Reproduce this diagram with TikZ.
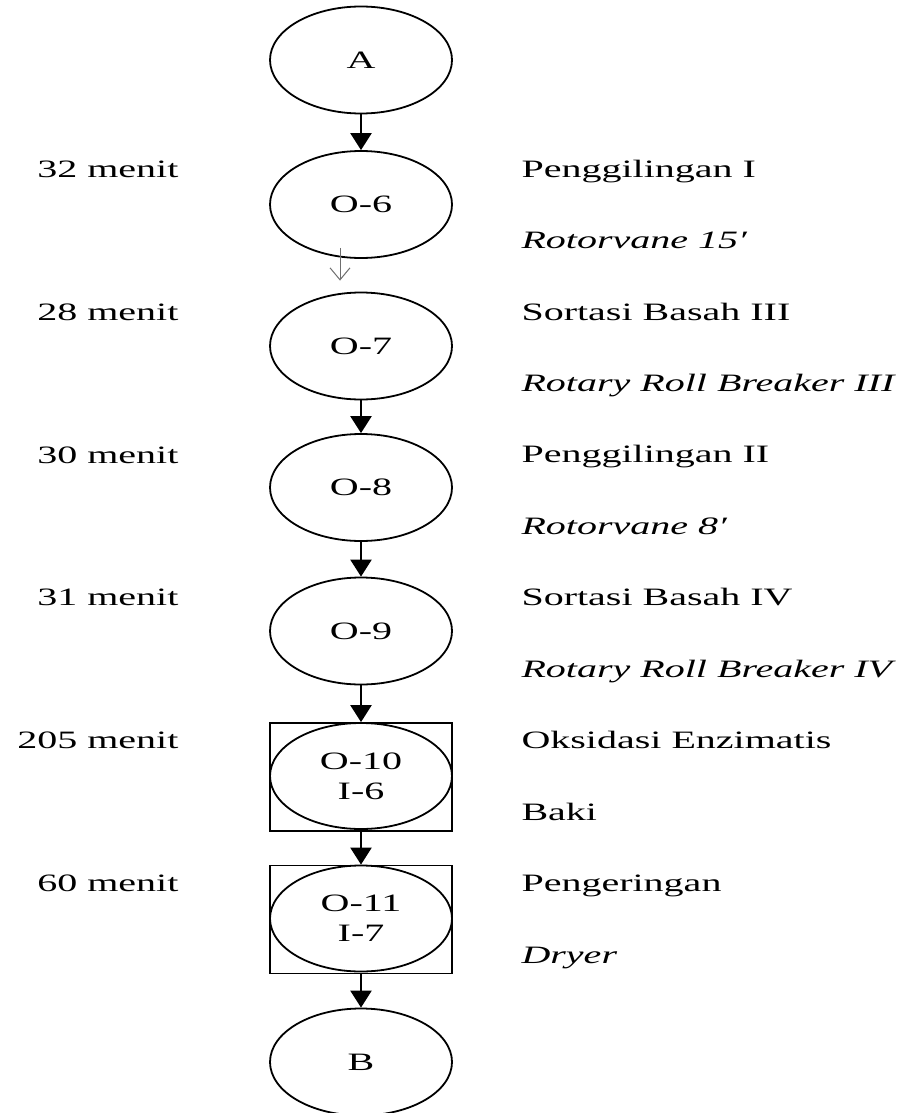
\documentclass[tikz,border=0pt]{standalone}
\usepackage{fontspec}
\setmainfont{Liberation Serif}[FakeStretch=1.6]
\usetikzlibrary{shapes.geometric,arrows.meta}
\definecolor{thingray}{RGB}{110,110,110}
\begin{document}
\begin{tikzpicture}[x=1pt,y=-1pt,
  every node/.style={font=\fontsize{25}{30}\selectfont},
  opnode/.style={ellipse,draw,line width=1.8pt,minimum width=182pt,minimum height=107pt,inner sep=0pt,align=center},
  frame/.style={rectangle,draw,line width=1.8pt,minimum width=182pt,minimum height=108pt,inner sep=0pt},
  flow/.style={line width=2.4pt,-{Triangle[width=21pt,length=17pt]}},
  thinflow/.style={thingray,line width=1pt,-{Straight Barb[width=20pt,length=12pt]}},
  timelbl/.style={anchor=base east},
  desclbl/.style={anchor=base west}]
\useasboundingbox (0,0) rectangle (902,1113);

% process chain
\node[opnode] (a) at (361,60) {A};
\node[opnode] (o6) at (361,204.5) {O-6};
\node[opnode] (o7) at (361,346) {O-7};
\node[opnode] (o8) at (361,487.5) {O-8};
\node[opnode] (o9) at (361,631) {O-9};
\node[frame] (r10) at (361,777) {};
\node[opnode,minimum height=106pt] (o10) at (361,776) {O-10\\I-6};
\node[frame] (r11) at (361,919.5) {};
\node[opnode,minimum height=106pt] (o11) at (361,918.5) {O-11\\I-7};
\node[opnode] (b) at (361,1062) {B};

% connectors
\draw[flow] (a) -- (o6);
\draw[thinflow] ([xshift=-21pt,yshift=11pt]o6.south) -- ([xshift=-21pt,yshift=11pt]o7.north);
\draw[flow] (o7) -- (o8);
\draw[flow] (o8) -- (o9);
\draw[flow] (o9.south) -- (r10.north);
\draw[flow] (r10.south) -- (r11.north);
\draw[flow] (r11.south) -- (b.north);

% durations
\node[timelbl] (t6) at (182,177) {32 menit};
\node[timelbl] (t7) at (182,320) {28 menit};
\node[timelbl] (t8) at (182,463) {30 menit};
\node[timelbl] (t9) at (182,605.5) {31 menit};
\node[timelbl] (t10) at (182,748.5) {205 menit};
\node[timelbl] (t11) at (182,891.5) {60 menit};

% operations and equipment
\node[desclbl] (d6) at (518,177) {Penggilingan I};
\node[desclbl] (e6) at (518,248.5) {\itshape Rotorvane 15′};
\node[desclbl] (d7) at (518,320) {Sortasi Basah III};
\node[desclbl] (e7) at (518,391) {\itshape Rotary Roll Breaker III};
\node[desclbl] (d8) at (518,462.5) {Penggilingan II};
\node[desclbl] (e8) at (518,534) {\itshape Rotorvane 8′};
\node[desclbl] (d9) at (518,605.5) {Sortasi Basah IV};
\node[desclbl] (e9) at (518,677) {\itshape Rotary Roll Breaker IV};
\node[desclbl] (d10) at (518,748.5) {Oksidasi Enzimatis};
\node[desclbl] (e10) at (518,820) {Baki};
\node[desclbl] (d11) at (518,891.5) {Pengeringan};
\node[desclbl] (e11) at (518,963) {\itshape Dryer};
\end{tikzpicture}
\end{document}
